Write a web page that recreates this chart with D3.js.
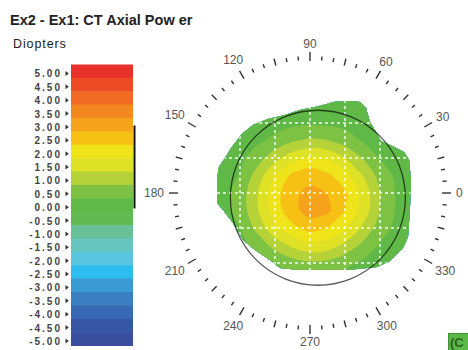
<!DOCTYPE html>
<html>
<head>
<meta charset="utf-8">
<script src="https://cdn.jsdelivr.net/npm/d3@7"></script>
<style>
  body { margin: 0; background: #fff; }
  svg { display: block; font-family: "Liberation Sans", Arial, sans-serif; }
</style>
</head>
<body>
<svg id="chart" width="468" height="350"></svg>
<script>
// legend bands (diopters), top to bottom
const legendLabels = ['5.00', '4.50', '4.00', '3.50', '3.00', '2.50', '2.00', '1.50', '1.00', '0.50', '0.00',
  '-0.50', '-1.00', '-1.50', '-2.00', '-2.50', '-3.00', '-3.50', '-4.00', '-4.50', '-5.00'];
const legendColors = ['#e8312a', '#ec4b26', '#f06a22', '#f3881f', '#f6a31b', '#f7c014', '#efe31a', '#dfe126',
  '#b5d239', '#7dc243', '#60b947', '#61ba52', '#68c096', '#67c6bf', '#5ac6df', '#2dbdee', '#3a9ad3',
  '#3b7fc3', '#3869b4', '#3657a6', '#3a4e9f'];

// polar axis labels (degrees)
const axisLabels = [0, 30, 60, 90, 120, 150, 180, 210, 240, 270, 300, 330];

// map sample grid in mm (x right, y up)
const gridX = [-6, -5, -4, -3, -2, -1, 0, 1, 2, 3, 4, 5, 6];
const gridY = [6, 5, 4, 3, 2, 1, 0, -1, -2, -3, -4, -5, -6];
const powerValues = [
  [0.12, 0.12, 0.12, 0.12, 0.12, 0.12, 0.13, 0.12, 0.12, 0.12, 0.12, 0.12, 0.12],
  [0.12, 0.12, 0.12, 0.15, 0.18, 0.21, 0.22, 0.21, 0.19, 0.17, 0.13, 0.12, 0.12],
  [0.12, 0.12, 0.18, 0.23, 0.30, 0.38, 0.41, 0.40, 0.33, 0.24, 0.20, 0.15, 0.12],
  [0.12, 0.18, 0.24, 0.40, 0.63, 0.94, 1.09, 1.02, 0.77, 0.46, 0.29, 0.20, 0.14],
  [0.15, 0.22, 0.38, 0.77, 1.33, 1.79, 2.03, 1.94, 1.51, 1.00, 0.47, 0.26, 0.18],
  [0.18, 0.27, 0.52, 1.23, 1.99, 2.62, 2.86, 2.60, 2.21, 1.51, 0.81, 0.37, 0.21],
  [0.19, 0.32, 0.71, 1.48, 2.29, 2.92, 3.10, 3.00, 2.57, 1.85, 1.02, 0.42, 0.22],
  [0.19, 0.31, 0.69, 1.46, 2.25, 2.84, 3.22, 3.12, 2.51, 1.81, 0.99, 0.41, 0.22],
  [0.18, 0.26, 0.49, 1.16, 1.87, 2.36, 2.68, 2.49, 2.10, 1.42, 0.74, 0.35, 0.21],
  [0.14, 0.22, 0.35, 0.66, 1.19, 1.60, 1.86, 1.76, 1.37, 0.88, 0.44, 0.24, 0.17],
  [0.12, 0.17, 0.23, 0.35, 0.49, 0.78, 0.92, 0.86, 0.62, 0.41, 0.25, 0.19, 0.13],
  [0.12, 0.12, 0.16, 0.21, 0.25, 0.32, 0.36, 0.34, 0.28, 0.23, 0.18, 0.14, 0.12],
  [0.12, 0.12, 0.12, 0.14, 0.17, 0.19, 0.20, 0.19, 0.18, 0.15, 0.12, 0.12, 0.12]
];

// measured area outline (mm)
const mapOutline = [[0.97, 5.09], [1.31, 5.20], [2.29, 5.26], [2.86, 5.20], [3.20, 4.86], [3.43, 4.06],
  [3.77, 3.49], [4.06, 2.97], [4.69, 2.69], [5.37, 2.34], [5.66, 1.89], [5.77, 0.74], [5.71, -0.97],
  [5.60, -2.51], [5.31, -3.14], [4.57, -3.89], [3.83, -4.23], [2.11, -4.40], [-0.57, -4.40], [-1.71, -4.29],
  [-2.29, -3.83], [-3.14, -3.26], [-3.83, -2.69], [-4.40, -1.71], [-4.97, -0.97], [-5.31, -0.57],
  [-5.31, 0.86], [-5.20, 1.49], [-4.86, 2.00], [-4.46, 2.63], [-3.89, 3.37], [-3.26, 3.89], [-2.40, 4.23],
  [-1.43, 4.46], [-0.57, 4.74], [0.29, 4.91]];

const gridLines = [-4, -2, 0, 2, 4];
const pupilCenter = [0.45, -0.27];
const pupilRadius = 5.0;

const svg = d3.select('#chart');
svg.append('rect').attr('width', 468).attr('height', 350).attr('fill', '#fff');

// titles
svg.append('text').attr('x', 10).attr('y', 25)
  .attr('font-size', 14.5).attr('font-weight', 'bold').attr('fill', '#222')
  .text('Ex2 - Ex1: CT Axial Pow er');
svg.append('text').attr('x', 13).attr('y', 48)
  .attr('font-size', 12.5).attr('letter-spacing', 0.9).attr('fill', '#222')
  .text('Diopters');

// ---- legend ----
const band = d3.scaleBand().domain(legendLabels).range([64.5, 345.5]);
const valueY = d3.scaleLinear().domain([5.5, -5]).range([64.5, 345.5]);
const colorOf = d3.scaleOrdinal().domain(legendLabels).range(legendColors);

const legend = svg.append('g');
legend.selectAll('rect').data(legendLabels).join('rect')
  .attr('x', 71).attr('width', 62)
  .attr('y', d => band(d)).attr('height', band.bandwidth() + 0.5)
  .attr('fill', d => colorOf(d));

legend.selectAll('text').data(legendLabels).join('text')
  .attr('x', 62).attr('y', d => band(d) + band.bandwidth() - 0.5)
  .attr('text-anchor', 'end')
  .attr('font-size', 10).attr('font-weight', 'bold').attr('letter-spacing', 2)
  .attr('fill', '#444')
  .text(d => d);

legend.selectAll('path').data(legendLabels).join('path')
  .attr('d', d => {
    const yc = band(d) + band.bandwidth() - 4.5;
    return `M65.5,${yc - 2.5}L68.8,${yc}L65.5,${yc + 2.5}Z`;
  })
  .attr('fill', '#333');

// data range bar
const allValues = powerValues.flat();
const [vMin, vMax] = d3.extent(allValues);
legend.append('line')
  .attr('x1', 134.5).attr('x2', 134.5)
  .attr('y1', valueY(vMax)).attr('y2', valueY(vMin))
  .attr('stroke', '#111').attr('stroke-width', 2);

// ---- polar map ----
const cx = 310, cy = 193, R = 140;
const x = d3.scaleLinear().domain([-8, 8]).range([cx - R, cx + R]);
const y = d3.scaleLinear().domain([-8, 8]).range([cy + R, cy - R]);

const defs = svg.append('defs');
defs.append('clipPath').attr('id', 'mapClip')
  .append('path')
  .attr('d', d3.line().x(p => x(p[0])).y(p => y(p[1]))(mapOutline) + 'Z');

const thresholds = legendLabels.map(Number).sort((a, b) => a - b);
const contours = d3.contours()
  .size([gridX.length, gridY.length])
  .thresholds(thresholds)(allValues);

const gx = d3.scaleLinear().domain([0.5, gridX.length - 0.5]).range([x(gridX[0]), x(gridX[gridX.length - 1])]);
const gy = d3.scaleLinear().domain([0.5, gridY.length - 0.5]).range([y(gridY[0]), y(gridY[gridY.length - 1])]);
const ringLine = d3.line().x(p => gx(p[0])).y(p => gy(p[1])).curve(d3.curveCatmullRomClosed.alpha(0.5));

const mapG = svg.append('g').attr('clip-path', 'url(#mapClip)');
mapG.selectAll('path.band')
  .data(contours.filter(c => c.coordinates.length > 0))
  .join('path')
  .attr('class', 'band')
  .attr('d', c => c.coordinates.map(poly => poly.map(ring => ringLine(ring.slice(0, -1))).join('')).join(''))
  .attr('fill', c => colorOf(c.value.toFixed(2)));

// dashed grid over the map
const gridG = mapG.append('g')
  .attr('stroke', '#fff').attr('stroke-width', 1.5).attr('stroke-dasharray', '3,3').attr('stroke-opacity', 0.9);
gridG.selectAll('line.v').data(gridLines).join('line').attr('class', 'v')
  .attr('x1', d => x(d)).attr('x2', d => x(d)).attr('y1', y(6)).attr('y2', y(-6));
gridG.selectAll('line.h').data(gridLines).join('line').attr('class', 'h')
  .attr('y1', d => y(d)).attr('y2', d => y(d)).attr('x1', x(-6)).attr('x2', x(6));

// pupil circle
svg.append('circle')
  .attr('cx', x(pupilCenter[0])).attr('cy', y(pupilCenter[1]))
  .attr('r', x(pupilRadius) - x(0))
  .attr('fill', 'none').attr('stroke', '#000').attr('stroke-opacity', 0.65).attr('stroke-width', 1.3);

// polar ticks
const rad = a => a * Math.PI / 180;
const ticks = svg.append('g').attr('stroke', '#333').attr('stroke-width', 1.4);
ticks.selectAll('line').data(d3.range(0, 360, 5)).join('line')
  .each(function (a) {
    const r0 = a % 15 === 0 ? 132 : 133;
    const r1 = a % 30 === 0 ? 141 : (a % 15 === 0 ? 139 : 137);
    d3.select(this)
      .attr('x1', cx + r0 * Math.cos(rad(a))).attr('y1', cy - r0 * Math.sin(rad(a)))
      .attr('x2', cx + r1 * Math.cos(rad(a))).attr('y2', cy - r1 * Math.sin(rad(a)));
  });

const lbl = svg.append('g').attr('font-size', 12).attr('fill', '#555');
lbl.selectAll('text').data(axisLabels).join('text')
  .attr('text-anchor', 'middle').attr('dy', '0.35em')
  .text(d => d)
  .each(function (a) {
    const w = this.getComputedTextLength();
    const r = 146 + (w / 2) * Math.abs(Math.cos(rad(a))) + 3 * Math.abs(Math.sin(rad(a)));
    d3.select(this).attr('x', cx + r * Math.cos(rad(a))).attr('y', cy - r * Math.sin(rad(a)));
  });

// corner badge
svg.append('rect').attr('x', 448.5).attr('y', 333.5).attr('width', 22).attr('height', 17)
  .attr('fill', '#5ab946').attr('stroke', '#3f8f35');
svg.append('text').attr('x', 450).attr('y', 347).attr('font-size', 13).attr('font-weight', 'bold')
  .attr('fill', '#2c5f22').text('(C');
</script>
</body>
</html>
